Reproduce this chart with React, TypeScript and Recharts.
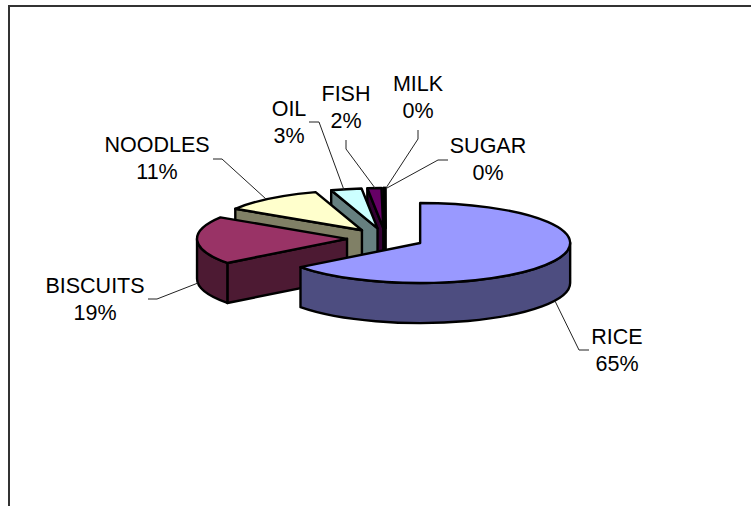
import { PieChart, Pie } from 'recharts';

const WIDTH = 751;
const HEIGHT = 506;

// clockwise from 12 o'clock
const NAMES = ['RICE', 'BISCUITS', 'NOODLES', 'OIL', 'FISH', 'MILK', 'SUGAR'];
const VALUES = [64.7, 19.3, 11, 3.3, 1.5, 0.15, 0.05];

const TOP_COLORS = ['#9999FF', '#993366', '#FFFFCC', '#CCFFFF', '#660066', '#FF8080', '#0066CC'];
const SIDE_COLORS = ['#4D4D80', '#4D1A33', '#808066', '#668080', '#330033', '#804040', '#003366'];

// hand-placed labels: text centre, first baseline, leader line
const LABELS: Record<string, { x: number; y: number; line: number[][] }> = {
  RICE: { x: 617, y: 344, line: [[555, 301], [579, 350], [589, 350]] },
  BISCUITS: { x: 95, y: 293, line: [[198, 283], [157, 299], [148, 299]] },
  NOODLES: { x: 157, y: 152, line: [[266, 199], [222, 159], [213, 159]] },
  OIL: { x: 289, y: 116, line: [[344, 190], [319, 122], [309, 122]] },
  FISH: { x: 346, y: 101, line: [[375, 188], [346, 149], [346, 140]] },
  MILK: { x: 418, y: 91, line: [[386, 188], [418, 139], [418, 130]] },
  SUGAR: { x: 488, y: 153, line: [[387, 188], [438, 160], [448, 160]] },
};

const TILT = 0.267; // ry / rx of the top face
const DEPTH = 40;
const EXPLODE = 38.6;

const rad = (d: number) => (d * Math.PI) / 180;

function Slice3D(props: any) {
  const { cx, cy, outerRadius: r, startAngle, endAngle, payload } = props;
  // recharts angles -> degrees clockwise from the top
  const from = 450 - endAngle;
  const to = 450 - startAngle;
  const mid = (from + to) / 2;
  const ox = cx + EXPLODE * Math.sin(rad(mid));
  const oy = cy - EXPLODE * TILT * Math.cos(rad(mid));
  const ry = r * TILT;
  const px = (t: number) => ox + r * Math.sin(rad(t));
  const py = (t: number) => oy - ry * Math.cos(rad(t));
  const stroke = { stroke: '#000', strokeWidth: 2.4, strokeLinejoin: 'round' as const };

  const face = (t: number) =>
    `M${ox},${oy} L${px(t)},${py(t)} L${px(t)},${py(t) + DEPTH} L${ox},${oy + DEPTH} Z`;

  const wallFrom = Math.max(from, 90);
  const wallTo = Math.min(to, 270);
  const wall =
    wallTo > wallFrom
      ? `M${px(wallFrom)},${py(wallFrom)} A${r},${ry} 0 0 1 ${px(wallTo)},${py(wallTo)} ` +
        `L${px(wallTo)},${py(wallTo) + DEPTH} A${r},${ry} 0 0 0 ${px(wallFrom)},${py(wallFrom) + DEPTH} Z`
      : null;

  const large = to - from > 180 ? 1 : 0;
  const top = `M${ox},${oy} L${px(from)},${py(from)} A${r},${ry} 0 ${large} 1 ${px(to)},${py(to)} Z`;

  return (
    <g>
      {Math.sin(rad(from)) < 0 && <path d={face(from)} fill={payload.side} {...stroke} />}
      {Math.sin(rad(to)) > 0 && <path d={face(to)} fill={payload.side} {...stroke} />}
      {wall && <path d={wall} fill={payload.side} {...stroke} />}
      <path d={top} fill={payload.top} {...stroke} />
    </g>
  );
}

function SliceLabel(props: any) {
  const { payload, percent } = props;
  const spec = LABELS[payload.name];
  return (
    <g>
      <polyline
        points={spec.line.map((p) => p.join(',')).join(' ')}
        fill="none"
        stroke="#222"
        strokeWidth={1}
      />
      <text x={spec.x} y={spec.y} textAnchor="middle" fontFamily="Liberation Sans" fontSize={21.5} fill="#000">
        {payload.name}
      </text>
      <text x={spec.x} y={spec.y + 27} textAnchor="middle" fontFamily="Liberation Sans" fontSize={21.5} fill="#000">
        {Math.round(percent * 100)}%
      </text>
    </g>
  );
}

// back slices first so the front ones overlap them, hence the reversed order
const data = NAMES.map((name, i) => ({
  name,
  value: VALUES[i],
  top: TOP_COLORS[i],
  side: SIDE_COLORS[i],
})).reverse();

export default function App() {
  return (
    <div style={{ position: 'absolute', left: 0, top: 0, width: WIDTH, height: HEIGHT, overflow: 'hidden', background: '#fff' }}>
      <div style={{ position: 'absolute', left: 8, top: 5, right: 0, bottom: 0, borderLeft: '2px solid #333', borderTop: '2px solid #333' }} />
      <div style={{ position: 'absolute', left: 0, top: 0 }}>
        <PieChart width={WIDTH} height={HEIGHT} margin={{ left: 0, right: 0, top: 0, bottom: 0 }}>
          <Pie
            data={data}
            dataKey="value"
            nameKey="name"
            cx={385.6}
            cy={238.4}
            outerRadius={150}
            startAngle={90}
            endAngle={450}
            stroke="none"
            shape={(p: any) => <Slice3D {...p} />}
            label={(p: any) => <SliceLabel {...p} />}
            labelLine={false}
            isAnimationActive={false}
          />
        </PieChart>
      </div>
    </div>
  );
}
